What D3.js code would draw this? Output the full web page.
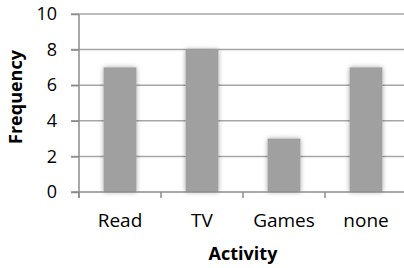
<!DOCTYPE html>
<html>
<head>
<meta charset="utf-8">
<script src="https://cdn.jsdelivr.net/npm/d3@7"></script>
<style>
  body { margin: 0; background: #fff; }
  text { font-family: "Open Sans", sans-serif; }
</style>
</head>
<body>
<div id="chart"></div>
<script>
let activities = ["Read", "TV", "Games", "none"];
let frequencies = [7, 8, 3, 7];
let yTicks = [0, 2, 4, 6, 8, 10];

function config(){
    let width = 404;
    let height = 268;
    let margin = { top: 14, bottom: 76, left: 79, right: -3 };
    let bodyWidth = width - margin.left - margin.right;
    let bodyHeight = height - margin.top - margin.bottom;
    let svg = d3.select("#chart")
                .append("svg")
                .attr("width", width)
                .attr("height", height);
    let defs = svg.append("defs");
    let f = defs.append("filter").attr("id", "shadow")
                .attr("x", "-40%").attr("y", "-10%").attr("width", "180%").attr("height", "120%");
    f.append("feGaussianBlur").attr("in", "SourceAlpha").attr("stdDeviation", 2.5).attr("result", "b");
    f.append("feComponentTransfer").attr("in", "b").attr("result", "b2")
        .append("feFuncA").attr("type", "linear").attr("slope", 0.35);
    let m = f.append("feMerge");
    m.append("feMergeNode").attr("in", "b2");
    m.append("feMergeNode").attr("in", "SourceGraphic");
    let container = svg.append("g")
                .attr("transform", "translate(" + [margin.left, margin.top] + ")");
    return { width, height, margin, bodyWidth, bodyHeight, svg, container };
}

function scales(cfg){
    let xScale = d3.scaleBand()
                .domain(activities)
                .range([0, cfg.bodyWidth])
                .paddingInner(0.6)
                .paddingOuter(0.3);
    let yScale = d3.scaleLinear()
                .domain([0, 10])
                .range([cfg.bodyHeight, 0]);
    return { xScale, yScale };
}

function draw(cfg, sc){
    let { container, bodyWidth, bodyHeight } = cfg;
    let { xScale, yScale } = sc;

    // gridlines + left ticks
    container.append("g")
        .selectAll("line")
        .data(yTicks.filter(d => d > 0))
        .enter()
        .append("line")
        .attr("x1", -8)
        .attr("x2", bodyWidth)
        .attr("y1", d => yScale(d))
        .attr("y2", d => yScale(d))
        .attr("stroke", "#a6a6a6")
        .attr("stroke-width", 1.5);

    // bars
    container.append("g")
        .selectAll("rect")
        .data(frequencies)
        .enter()
        .append("rect")
        .attr("x", (d, i) => xScale(activities[i]))
        .attr("y", d => yScale(d))
        .attr("width", xScale.bandwidth())
        .attr("height", d => bodyHeight - yScale(d))
        .attr("fill", "#a0a0a0")
        .attr("filter", "url(#shadow)");

    // y axis
    let yAxis = container.append("g")
        .call(d3.axisLeft(yScale).tickValues(yTicks).tickSize(8).tickPadding(14));
    yAxis.select(".domain").attr("stroke", "#8c8c8c").attr("stroke-width", 1.5)
        .attr("d", "M0," + yScale(10) + "V" + (bodyHeight + 6));
    yAxis.selectAll(".tick line").attr("stroke", "#8c8c8c").attr("stroke-width", 1.5);
    yAxis.selectAll("text")
        .style("font-family", "'Open Sans', sans-serif")
        .style("font-size", "18px")
        .attr("fill", "#000");

    // x axis with ticks at category boundaries
    let xAxis = container.append("g")
        .attr("transform", "translate(0," + bodyHeight + ")");
    xAxis.append("line")
        .attr("x1", -8).attr("x2", bodyWidth)
        .attr("stroke", "#8c8c8c").attr("stroke-width", 1.5);
    xAxis.selectAll(".bt")
        .data(activities)
        .enter()
        .append("line")
        .attr("class", "bt")
        .attr("x1", d => xScale(d) - xScale.step() * xScale.paddingOuter())
        .attr("x2", d => xScale(d) - xScale.step() * xScale.paddingOuter())
        .attr("y1", 0).attr("y2", 6)
        .attr("stroke", "#8c8c8c").attr("stroke-width", 1.5);
    xAxis.selectAll(".lbl")
        .data(activities)
        .enter()
        .append("text")
        .attr("x", d => xScale(d) + xScale.bandwidth() / 2)
        .attr("y", 35)
        .attr("text-anchor", "middle")
        .style("font-size", "19px")
        .text(d => d);

    // axis titles
    container.append("text")
        .attr("x", 243 - cfg.margin.left)
        .attr("y", 260 - cfg.margin.top)
        .attr("text-anchor", "middle")
        .style("font-size", "18px")
        .style("font-weight", "bold")
        .text("Activity");
    container.append("text")
        .attr("transform", "translate(" + (22 - cfg.margin.left) + "," + (97 - cfg.margin.top) + ") rotate(-90)")
        .attr("text-anchor", "middle")
        .style("font-size", "18px")
        .style("font-weight", "bold")
        .text("Frequency");
}

let cfg = config();
let sc = scales(cfg);
draw(cfg, sc);
</script>
</body>
</html>
